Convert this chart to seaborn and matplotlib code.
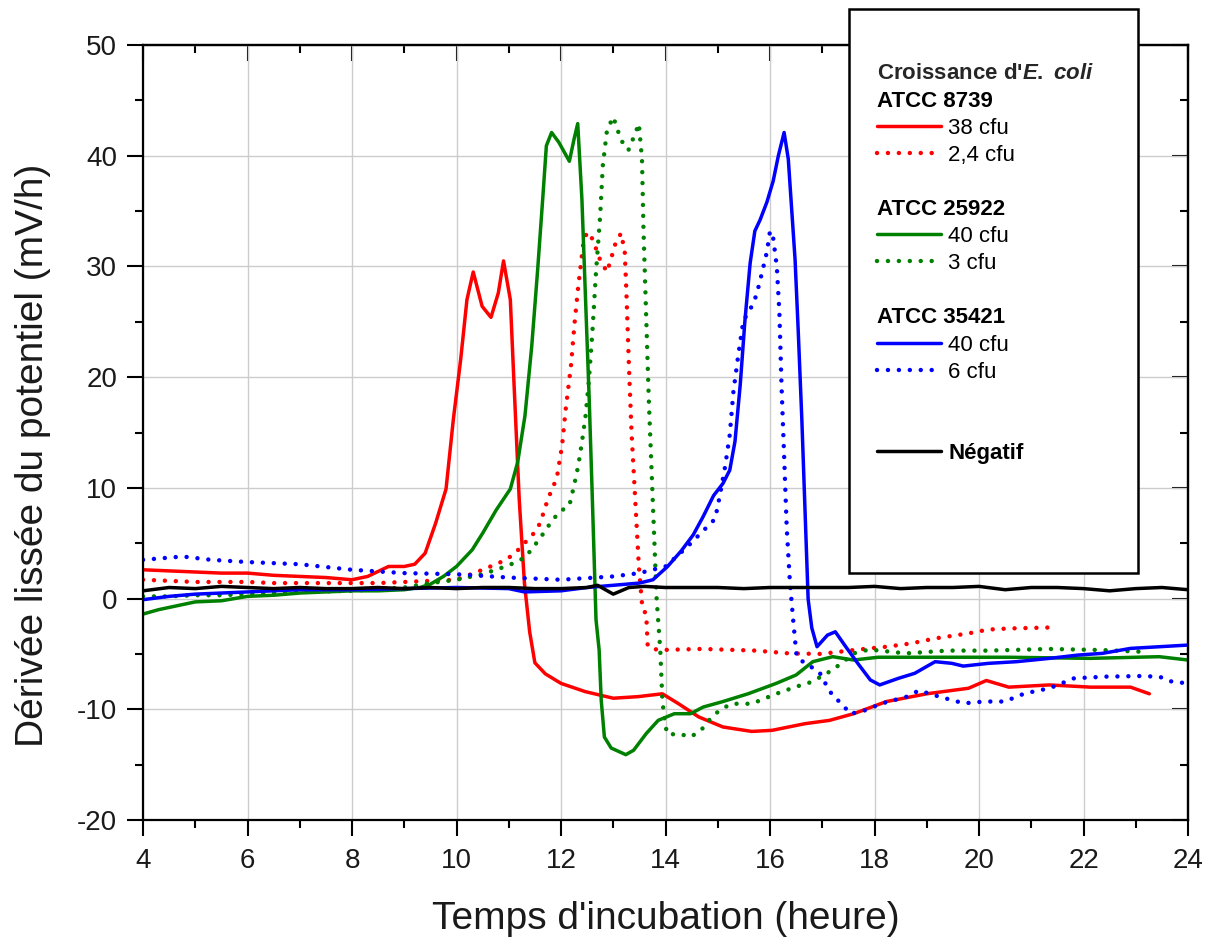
import matplotlib
matplotlib.use("Agg")
import matplotlib.pyplot as plt
from matplotlib.lines import Line2D
from matplotlib.ticker import MultipleLocator, NullFormatter
import pandas as pd
import seaborn as sns

# ---------------- data ----------------
red_solid_x = [4.0, 4.5, 5.0, 5.5, 6.0, 6.5, 7.0, 7.5, 8.0, 8.3,
               8.7, 9.0, 9.2, 9.4, 9.6, 9.8, 9.94, 10.08, 10.2, 10.32,
               10.49, 10.66, 10.8, 10.9, 11.03, 11.1, 11.2, 11.3, 11.4, 11.5,
               11.7, 12.0, 12.46, 13.0, 13.47, 13.94, 14.25, 14.64, 15.1, 15.65,
               16.04, 16.67, 17.14, 17.6, 18.23, 19.0, 19.8, 20.14, 20.57, 21.35,
               22.13, 22.9, 23.26]
red_solid_y = [2.6, 2.5, 2.4, 2.3, 2.3, 2.1, 2.0, 1.9, 1.7, 2.0,
               2.9, 2.9, 3.1, 4.1, 6.8, 9.9, 16.2, 21.6, 27.0, 29.5,
               26.4, 25.4, 27.6, 30.5, 27.0, 19.5, 9.0, 1.4, -3.0, -5.8,
               -6.8, -7.66, -8.4, -9.0, -8.86, -8.6, -9.5, -10.7, -11.6, -12.0,
               -11.9, -11.3, -11.0, -10.4, -9.3, -8.6, -8.1, -7.4, -8.0, -7.8,
               -8.0, -8.0, -8.6]

red_dot_x = [4.0, 4.5, 5.0, 5.5, 6.0, 6.5, 7.0, 7.5, 8.0, 8.5,
             9.0, 9.5, 10.0, 10.5, 10.9, 11.1, 11.48, 11.6, 11.75, 11.92,
             12.02, 12.09, 12.19, 12.26, 12.33, 12.43, 12.5, 12.6, 12.74, 12.88,
             12.94, 13.05, 13.15, 13.22, 13.25, 13.3, 13.35, 13.42, 13.49, 13.56,
             13.63, 13.66, 13.86, 14.7, 15.73, 16.36, 16.98, 17.6, 18.23, 18.7,
             19.16, 19.79, 20.18, 20.57, 21.47]
red_dot_y = [1.7, 1.6, 1.5, 1.5, 1.5, 1.4, 1.4, 1.4, 1.4, 1.4,
             1.5, 1.6, 1.7, 2.6, 3.4, 4.0, 5.9, 6.8, 9.0, 10.9,
             13.8, 17.1, 21.0, 24.9, 28.2, 32.2, 33.1, 32.5, 30.7, 29.5,
             30.4, 32.2, 33.0, 31.3, 27.9, 21.0, 15.0, 9.0, 2.9, -1.0,
             -1.35, -4.35, -4.65, -4.55, -4.7, -4.95, -5.0, -4.65, -4.35, -4.05,
             -3.6, -3.15, -2.8, -2.7, -2.6]

green_solid_x = [4.0, 4.3, 4.6, 5.0, 5.5, 6.0, 6.5, 7.0, 7.5, 8.0,
                 8.5, 9.0, 9.3, 9.5, 9.75, 10.0, 10.3, 10.5, 10.76, 11.03,
                 11.17, 11.31, 11.44, 11.55, 11.65, 11.72, 11.82, 11.96, 12.16, 12.25,
                 12.32, 12.4, 12.47, 12.54, 12.6, 12.67, 12.73, 12.77, 12.83, 12.96,
                 13.24, 13.39, 13.63, 13.86, 14.17, 14.48, 14.72, 15.1, 15.58, 16.12,
                 16.5, 16.82, 17.2, 17.6, 18.07, 19.0, 20.57, 22.13, 23.45, 24.0]
green_solid_y = [-1.4, -1.0, -0.7, -0.3, -0.2, 0.2, 0.3, 0.5, 0.6, 0.7,
                 0.7, 0.8, 1.0, 1.3, 2.0, 2.9, 4.4, 5.9, 8.0, 9.9,
                 12.3, 16.5, 22.8, 29.5, 36.1, 40.9, 42.1, 41.2, 39.5, 41.5,
                 42.9, 36.1, 27.0, 18.0, 9.0, -1.9, -4.65, -9.2, -12.5, -13.5,
                 -14.1, -13.7, -12.2, -11.0, -10.4, -10.4, -9.8, -9.3, -8.6, -7.66,
                 -6.9, -5.7, -5.25, -5.55, -5.3, -5.3, -5.3, -5.4, -5.25, -5.55]

green_dot_x = [4.0, 4.5, 5.0, 5.5, 6.0, 7.0, 8.0, 9.0, 9.5, 10.0,
               10.5, 11.0, 11.31, 11.48, 11.65, 11.78, 11.96, 12.16, 12.25, 12.33,
               12.4, 12.47, 12.53, 12.6, 12.67, 12.75, 12.8, 12.88, 13.0, 13.15,
               13.29, 13.42, 13.49, 13.55, 13.58, 13.63, 13.68, 13.73, 13.78, 13.83,
               13.9, 13.94, 14.0, 14.05, 14.25, 14.48, 14.68, 14.83, 15.03, 15.26,
               15.65, 16.12, 16.5, 16.75, 16.98, 17.14, 17.37, 17.6, 17.9, 18.6,
               19.4, 20.18, 21.35, 22.36, 23.1]
green_dot_y = [0.2, 0.2, 0.3, 0.3, 0.4, 0.6, 0.7, 1.0, 1.4, 1.7,
               2.2, 3.0, 3.7, 4.7, 5.8, 6.7, 7.8, 8.4, 10.2, 12.0,
               14.1, 16.5, 19.5, 24.0, 29.5, 34.6, 39.1, 42.3, 43.5, 41.4,
               40.5, 42.0, 42.9, 39.7, 33.1, 25.5, 18.0, 12.0, 6.0, 0.0,
               -4.65, -9.2, -11.6, -12.3, -12.2, -12.5, -11.9, -11.0, -10.1, -9.5,
               -9.5, -8.6, -7.96, -7.6, -7.05, -6.6, -5.85, -4.95, -4.6, -4.95,
               -4.7, -4.7, -4.55, -4.65, -4.8]

blue_solid_x = [4.0, 4.5, 5.0, 6.0, 7.0, 8.0, 9.0, 10.0, 11.0, 11.3,
                12.0, 12.5, 13.0, 13.5, 13.76, 14.04, 14.3, 14.53, 14.72, 14.92,
                15.1, 15.23, 15.33, 15.43, 15.52, 15.62, 15.71, 15.81, 15.94, 16.06,
                16.16, 16.27, 16.35, 16.41, 16.48, 16.54, 16.61, 16.67, 16.73, 16.8,
                16.9, 17.1, 17.25, 17.45, 17.68, 17.92, 18.1, 18.46, 18.77, 19.16,
                19.48, 19.7, 20.18, 20.72, 21.35, 21.9, 22.36, 22.9, 24.0]
blue_solid_y = [-0.1, 0.2, 0.4, 0.6, 0.8, 0.8, 0.9, 1.0, 0.9, 0.6,
                0.7, 1.0, 1.2, 1.4, 1.7, 2.9, 4.3, 5.75, 7.4, 9.3,
                10.4, 11.6, 14.2, 19.3, 25.1, 30.3, 33.2, 34.2, 35.8, 37.7,
                40.0, 42.1, 39.7, 35.5, 30.6, 24.2, 16.1, 8.0, -0.06, -2.65,
                -4.35, -3.3, -3.0, -4.35, -5.85, -7.35, -7.8, -7.2, -6.75, -5.7,
                -5.85, -6.1, -5.85, -5.7, -5.4, -5.1, -4.95, -4.5, -4.2]

blue_dot_x = [4.0, 4.76, 5.3, 6.0, 7.0, 8.0, 9.0, 10.0, 11.0, 12.0,
              13.0, 13.5, 14.0, 14.4, 14.95, 15.04, 15.14, 15.23, 15.3, 15.39,
              15.49, 15.62, 15.74, 15.84, 15.94, 16.0, 16.06, 16.13, 16.18, 16.22,
              16.27, 16.32, 16.38, 16.45, 16.51, 16.67, 16.94, 17.06, 17.21, 17.37,
              17.53, 17.76, 18.15, 18.62, 18.85, 19.24, 19.71, 20.1, 20.49, 20.88,
              21.35, 21.82, 22.44, 23.06, 23.45, 23.69, 24.0]
blue_dot_y = [3.5, 3.8, 3.5, 3.3, 3.1, 2.6, 2.3, 2.2, 1.9, 1.7,
              2.0, 2.3, 2.9, 4.6, 7.2, 9.3, 11.9, 14.8, 18.7, 21.9,
              25.1, 26.1, 27.4, 29.3, 31.3, 33.2, 32.6, 30.0, 25.8, 19.3,
              12.9, 6.4, 1.55, -2.3, -5.25, -5.85, -6.6, -7.66, -8.86, -9.46,
              -10.4, -10.2, -9.46, -8.86, -8.3, -8.86, -9.46, -9.3, -9.3, -8.56,
              -8.1, -7.2, -7.05, -7.0, -7.05, -7.5, -7.66]

neg_x = [4.0, 4.5, 5.0, 5.5, 6.0, 6.5, 7.0, 7.5, 8.0, 8.5,
         9.0, 9.5, 10.0, 10.5, 11.0, 11.5, 12.0, 12.5, 12.7, 13.0,
         13.3, 13.6, 14.0, 14.5, 15.0, 15.5, 16.0, 16.5, 17.0, 17.5,
         18.0, 18.5, 19.0, 19.5, 20.0, 20.5, 21.0, 21.5, 22.0, 22.5,
         23.0, 23.5, 24.0]
neg_y = [0.7, 1.0, 0.9, 1.1, 1.0, 0.9, 1.0, 0.9, 0.9, 1.0,
         0.9, 1.0, 0.9, 1.0, 1.0, 0.9, 0.9, 1.0, 1.2, 0.4,
         1.0, 1.1, 1.0, 1.0, 1.0, 0.9, 1.0, 1.0, 1.0, 1.0,
         1.1, 0.9, 1.0, 1.0, 1.1, 0.8, 1.0, 1.0, 0.9, 0.7,
         0.9, 1.0, 0.8]

series_names = ["38 cfu", "2,4 cfu", "40 cfu (25922)", "3 cfu",
                "40 cfu (35421)", "6 cfu", "Négatif"]
series_x = [red_solid_x, red_dot_x, green_solid_x, green_dot_x,
            blue_solid_x, blue_dot_x, neg_x]
series_y = [red_solid_y, red_dot_y, green_solid_y, green_dot_y,
            blue_solid_y, blue_dot_y, neg_y]

x_ticks = [4, 6, 8, 10, 12, 14, 16, 18, 20, 22, 24]
y_ticks = [-20, -10, 0, 10, 20, 30, 40, 50]

legend_title = "\nCroissance d'$\\mathit{E.\\ coli}$"
legend_rows = [("ATCC 8739", None), ("38 cfu", 0), ("2,4 cfu", 1), (" ", None),
               ("ATCC 25922", None), ("40 cfu", 2), ("3 cfu", 3), (" ", None),
               ("ATCC 35421", None), ("40 cfu", 4), ("6 cfu", 5), (" ", None),
               (" ", None), ("Négatif", 6), (" ", None), (" ", None), (" ", None)]

# ---------------- styles ----------------
DOT = (0, (0.01, 2.45))
SOLID_LW = 2.5
DOT_LW = 3.2
styles = {
    "38 cfu": dict(color="#ff0000", linestyle="-", linewidth=SOLID_LW),
    "2,4 cfu": dict(color="#ff0000", linestyle=DOT, linewidth=DOT_LW),
    "40 cfu (25922)": dict(color="#008000", linestyle="-", linewidth=SOLID_LW),
    "3 cfu": dict(color="#008000", linestyle=DOT, linewidth=DOT_LW),
    "40 cfu (35421)": dict(color="#0000ff", linestyle="-", linewidth=SOLID_LW),
    "6 cfu": dict(color="#0000ff", linestyle=DOT, linewidth=DOT_LW),
    "Négatif": dict(color="#000000", linestyle="-", linewidth=SOLID_LW),
}

df = pd.concat([pd.DataFrame({"t": xs, "v": ys, "serie": n})
                for n, xs, ys in zip(series_names, series_x, series_y)],
               ignore_index=True)

sns.set_theme(style="ticks")
plt.rcParams["font.family"] = ["Liberation Sans", "DejaVu Sans"]
plt.rcParams["axes.unicode_minus"] = False
plt.rcParams["mathtext.fontset"] = "custom"
plt.rcParams["mathtext.it"] = "Liberation Sans:italic:bold"
plt.rcParams["mathtext.rm"] = "Liberation Sans:bold"
plt.rcParams["mathtext.bf"] = "Liberation Sans:bold"

W, H = 1214, 938
fig = plt.figure(figsize=(W / 100, H / 100), dpi=100)
fig.patch.set_facecolor("white")
ax = fig.add_axes([143 / W, 1 - 820 / H, 1045 / W, 775 / H])
ax.set_facecolor("white")

for n in series_names:
    sub = df[df["serie"] == n]
    lines_before = len(ax.lines)
    sns.lineplot(data=sub, x="t", y="v", ax=ax, errorbar=None, legend=False,
                 sort=False, **styles[n])
    for ln in ax.lines[lines_before:]:
        ln.set_dash_capstyle("round")
        ln.set_solid_joinstyle("round")

ax.set_xlim(4, 24)
ax.set_ylim(-20, 50)
ax.set_xticks(x_ticks)
ax.set_yticks(y_ticks)
ax.xaxis.set_minor_locator(MultipleLocator(1))
ax.yaxis.set_minor_locator(MultipleLocator(5))
ax.grid(True, which="major", color="#cccccc", linewidth=1.0)
ax.set_axisbelow(True)

for s in ax.spines.values():
    s.set_linewidth(1.6)
    s.set_color("black")
    s.set_visible(True)

ax.tick_params(which="major", direction="out", length=11.5, width=1.5,
               color="black", labelsize=20, labelcolor="#1a1a1a")
ax.tick_params(which="minor", direction="out", length=5.8, width=1.5, color="black")
ax.tick_params(axis="y", which="major", pad=7)
ax.tick_params(axis="x", which="major", pad=9)

secx = ax.secondary_xaxis("top")
secx.set_xticks(x_ticks)
secx.xaxis.set_minor_locator(MultipleLocator(1))
secx.xaxis.set_major_formatter(NullFormatter())
secx.tick_params(which="major", direction="in", length=11.5, width=1.5, color="black")
secx.tick_params(which="minor", direction="in", length=5.8, width=1.5, color="black")
for s in secx.spines.values():
    s.set_linewidth(1.6)

secy = ax.secondary_yaxis("right")
secy.set_yticks(y_ticks)
secy.yaxis.set_minor_locator(MultipleLocator(5))
secy.yaxis.set_major_formatter(NullFormatter())
secy.tick_params(which="major", direction="in", length=11.5, width=1.5, color="black")
secy.tick_params(which="minor", direction="in", length=5.8, width=1.5, color="black")
for s in secy.spines.values():
    s.set_linewidth(1.6)

ax.set_xlabel("Temps d'incubation (heure)", fontsize=28, color="#1a1a1a")
ax.set_ylabel("Dérivée lissée du potentiel (mV/h)", fontsize=28, color="#1a1a1a")
ax.xaxis.set_label_coords(0.5, -0.104)
ax.yaxis.set_label_coords(-0.088, 0.47)

# ---------------- legend ----------------
LFS = 16
handles, labels = [], []
for lab, idx in legend_rows:
    if idx is None:
        handles.append(Line2D([], [], color="none"))
    else:
        st = styles[series_names[idx]]
        h = Line2D([], [], color=st["color"], linestyle=st["linestyle"],
                   linewidth=st["linewidth"])
        h.set_dash_capstyle("round")
        handles.append(h)
    labels.append(lab)

HL, HTP = 2.88, 0.32
leg = fig.legend(handles, labels, loc="upper left",
                 bbox_to_anchor=(849 / W, 1 - 9 / H - 0.6, 289 / W, 0.6),
                 bbox_transform=fig.transFigure, mode="expand",
                 borderaxespad=0, borderpad=1.26, labelspacing=0.275,
                 handlelength=HL, handletextpad=HTP, fontsize=LFS,
                 frameon=True, fancybox=False, shadow=False, framealpha=1,
                 edgecolor="black", facecolor="white",
                 title=legend_title, alignment="left",
                 title_fontproperties={"weight": "bold", "size": LFS})
leg.get_title().set_linespacing(1.34)
leg.get_frame().set_linewidth(1.8)
shift_px = (HL + HTP) * LFS * fig.dpi / 72
for (lab, idx), txt in zip(legend_rows, leg.get_texts()):
    txt.set_color("black")
    if idx is None and lab.strip():
        txt.set_fontweight("bold")
        txt.set_x(-shift_px)
    if lab == "Négatif":
        txt.set_fontweight("bold")

fig.savefig("out.png", dpi=100, facecolor="white")
